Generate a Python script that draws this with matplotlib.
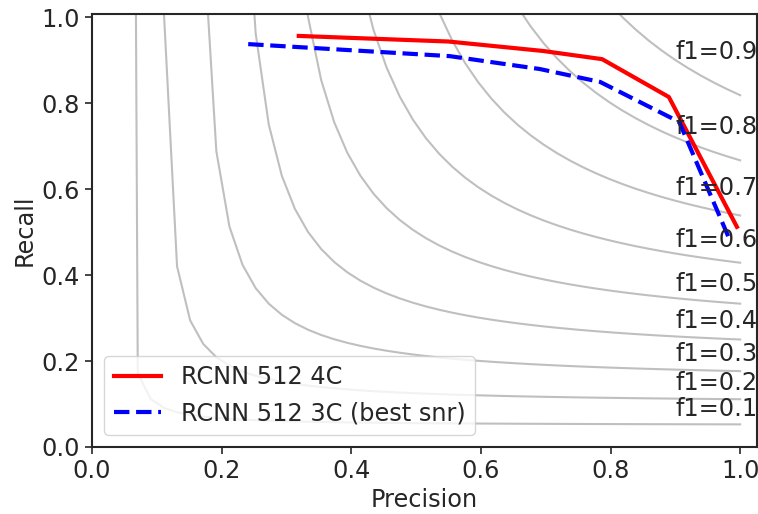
import numpy as np
import matplotlib
matplotlib.use("Agg")
import matplotlib.pyplot as plt

# iso-f1 levels drawn in the background
f1_levels = [0.1, 0.2, 0.3, 0.4, 0.5, 0.6, 0.7, 0.8, 0.9]

# precision / recall points
prec_4c = [0.319, 0.55, 0.696, 0.787, 0.890, 0.995]
rec_4c = [0.956, 0.943, 0.921, 0.902, 0.814, 0.512]

prec_3c = [0.241, 0.552, 0.691, 0.784, 0.906, 0.985]
rec_3c = [0.937, 0.909, 0.879, 0.849, 0.756, 0.478]

dark = "#262626"
fs = 17.25
plt.rcParams.update({
    "font.family": "DejaVu Sans",
    "font.size": fs,
    "text.color": dark,
    "axes.labelcolor": dark,
    "xtick.color": dark,
    "ytick.color": dark,
    "axes.edgecolor": dark,
})

fig = plt.figure(figsize=(7.58, 5.14), dpi=100)
ax = fig.add_axes([92 / 758, 67 / 514, 665 / 758, 433 / 514])

for f_score in f1_levels:
    x = np.linspace(0.01, 1)
    y = f_score * x / (2 * x - f_score)
    ax.plot(x[y >= 0], y[y >= 0], color="gray", alpha=0.5, lw=1.5)
    ax.annotate("f1={0:0.1f}".format(f_score), xy=(0.9, y[45] + 0.02),
                fontsize=fs, color=dark)

ax.plot(prec_4c, rec_4c, color="red", lw=3, label="RCNN 512 4C")
ax.plot(prec_3c, rec_3c, color="blue", lw=3, ls="--", label="RCNN 512 3C (best snr)")

ax.set_xlim(0, 1.026)
ax.set_ylim(0, 1.007)
ax.set_xticks([0.0, 0.2, 0.4, 0.6, 0.8, 1.0])
ax.set_yticks([0.0, 0.2, 0.4, 0.6, 0.8, 1.0])
ax.tick_params(labelsize=fs, length=5, width=1.2)
for s in ax.spines.values():
    s.set_linewidth(1.5)
ax.set_xlabel("Precision", fontsize=fs)
ax.set_ylabel("Recall", fontsize=fs)
ax.legend(loc="lower left", fontsize=fs)

fig.savefig("out.png", dpi=100)
